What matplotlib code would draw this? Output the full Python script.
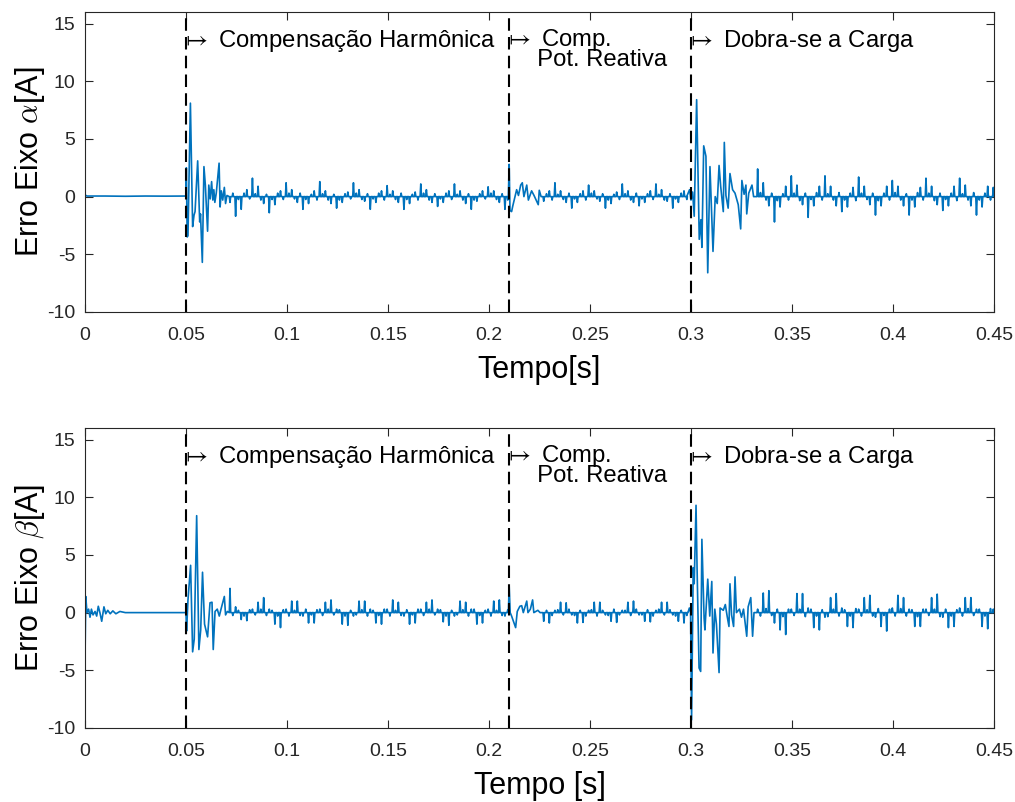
import numpy as np
import matplotlib
matplotlib.use("Agg")
from matplotlib import pyplot as plt

plt.rcParams['font.family'] = ['Liberation Sans', 'DejaVu Sans']
plt.rcParams['mathtext.fontset'] = 'cm'
plt.rcParams['axes.unicode_minus'] = False

# all times in ms, values in A
STEP = 1000 / 360   # spacing of the commutation spikes (6 per 60 Hz cycle)

# ---------------- eixo alpha ----------------
alpha_pre_t = [0.0, 1.0, 10.0, 20.0, 30.0, 40.0, 49.9]
alpha_pre_v = [0.15, 0.05, 0.05, 0.03, 0.05, 0.04, 0.05]

alpha_tr1_t = [50.0, 50.2, 50.6, 51.0, 52.2, 53.3, 54.0, 54.5, 55.8, 56.8, 57.2, 58.1, 58.9,
               59.6, 60.7, 61.3, 62.0, 62.7, 63.3, 63.8, 64.3, 65.0, 66.4, 66.9, 67.5, 68.2,
               69.0, 69.6, 70.3]
alpha_tr1_v = [0.05, 2.5, -3.5, -3.4, 8.1, -2.6, -1.6, -1.3, 3.1, -2.2, -1.5, -5.7, 2.6,
               1.0, -3.0, 1.0, -0.2, 1.3, -0.3, 0.6, -0.5, 0.3, 2.9, -0.9, 0.5, -0.3,
               0.8, -0.6, 0.1]
alpha_seg1_start = 71.8
alpha_seg1 = [-0.5, -1.7, -1.1, 0.6,
              1.6, 0.9, -0.6, -1.4, -0.7, 0.5,
              1.2, 0.6, -0.5, -1.1, -0.6, 0.5,
              1.3, 0.5, -0.6, -1.0, -0.5, 0.4,
              1.2, 0.6, -0.4, -1.1, -0.5, 0.5,
              0.95, 0.5, -0.5, -1.1, -0.6, 0.4,
              1.1, 0.6, -0.5, -0.85, -0.5, 0.5,
              1.1, 0.5, -0.6, -1.1, -0.4, 0.5,
              0.85, 0.5, -0.5, -1.1]
alpha_seg1_rip = [0.3, -0.25, 0.3, -0.2,
                  0.25, -0.3, 0.2, -0.25, 0.3, -0.25,
                  0.3, -0.2, 0.3, -0.25, 0.2, -0.3,
                  0.25, -0.3, 0.2, -0.3, 0.25, -0.2,
                  0.3, -0.25, 0.25, -0.2, 0.3, -0.3,
                  0.2, -0.25, 0.3, -0.25, 0.2, -0.3,
                  0.3, -0.3, 0.25, -0.2, 0.3, -0.25,
                  0.2, -0.3, 0.25, -0.3, 0.25, -0.2,
                  0.3, -0.25, 0.25, -0.3]

alpha_tr2_t = [209.6, 210.0, 210.4, 211.2, 211.8, 213.7, 214.6, 215.7, 216.5, 217.3, 218.7,
               219.5, 221.1, 222.3, 224.4, 224.9, 225.8]
alpha_tr2_v = [0.1, 2.8, -1.2, -1.3, -0.8, 0.6, 0.1, 1.0, 1.2, 0.0, 1.0,
               -0.3, 0.5, 0.1, -0.7, 0.55, 0.0]
alpha_seg2_start = 227.1
alpha_seg2 = [-0.4, 0.5,
              1.2, 0.5, -0.5, -1.0, -0.5, 0.5,
              1.0, 0.5, -0.4, -1.0, -0.6, 0.4,
              1.1, 0.5, -0.5, -0.8, -0.5, 0.5,
              1.1, 0.6, -0.4, -1.0, -0.5, 0.5]
alpha_seg2_rip = [0.25, -0.3,
                  0.2, -0.25, 0.3, -0.2, 0.25, -0.3,
                  0.3, -0.2, 0.25, -0.3, 0.2, -0.25,
                  0.25, -0.3, 0.3, -0.2, 0.25, -0.25,
                  0.2, -0.3, 0.25, -0.2, 0.3, -0.25]

alpha_tr3_t = [298.0, 299.3, 300.0, 300.8, 301.6, 302.8, 304.1, 304.9, 305.4, 306.3, 307.4,
               308.3, 309.4, 310.9, 312.0, 313.0, 313.9, 314.7, 316.0, 316.5, 317.3, 318.4,
               319.3, 320.6, 321.8, 323.4, 324.6, 325.2, 326.3, 327.2, 327.6, 328.6, 330.2,
               331.0]
alpha_tr3_v = [0.05, 0.6, -0.3, 0.4, -1.7, 8.4, -3.7, -2.0, -4.4, 4.4, 3.5,
               -6.6, 2.6, -4.75, 0.0, -0.6, 2.7, 0.9, -1.3, 4.7, 0.1, -1.0,
               2.0, 0.6, 0.3, -0.7, -2.8, 1.4, 0.2, 1.0, -1.5, 0.3, 1.0,
               0.0]
alpha_seg3_start = 333.0
alpha_seg3 = [2.4, 1.2, -0.8, -2.2, -0.9, 0.9,
              1.8, 1.0, -0.7, -1.8, -0.8, 0.9,
              1.8, 0.9, -0.8, -1.3, -0.9, 0.8,
              1.7, 0.9, -0.7, -1.6, -0.8, 0.9,
              1.4, 0.9, -0.8, -1.6, -0.9, 0.8,
              1.6, 0.9, -0.7, -1.2, -0.8, 0.9,
              1.6, 1.0, -0.8, -1.6, -0.9, 0.9,
              0.8]
alpha_seg3_rip = [0.35, -0.3, 0.3, -0.35, 0.25, -0.3,
                  0.3, -0.35, 0.3, -0.25, 0.35, -0.3,
                  0.25, -0.3, 0.35, -0.3, 0.3, -0.35,
                  0.3, -0.25, 0.3, -0.35, 0.3, -0.3,
                  0.35, -0.3, 0.25, -0.3, 0.35, -0.3,
                  0.3, -0.35, 0.3, -0.25, 0.3, -0.35,
                  0.25, -0.3, 0.35, -0.3, 0.3, -0.3,
                  0.3]

# ---------------- eixo beta ----------------
beta_pre_t = [0.0, 0.4, 1.0, 1.8, 2.5, 3.2, 4.0, 5.0, 5.8, 6.6, 7.4, 8.3, 9.4, 10.3, 11.3,
              12.5, 13.8, 15.3, 17.3, 20.0, 49.9]
beta_pre_v = [-4.4, 1.4, 0.0, 0.3, -0.4, 0.3, -0.2, 0.1, -0.3, 0.55, 0.0, -0.75, 0.5, -0.1, 0.2,
              -0.1, 0.15, -0.1, 0.1, 0.0, 0.0]

beta_tr1_t = [50.0, 50.3, 51.0, 52.3, 53.3, 54.1, 55.3, 56.4, 57.3, 58.2, 59.2, 60.7, 61.9,
              62.9, 63.5, 64.4, 65.5, 66.5, 67.5, 69.0, 69.6, 70.5]
beta_tr1_v = [0.0, -1.6, 1.1, 4.1, -3.4, -2.3, 8.4, -3.2, -1.5, 3.5, -1.0, -2.1, 0.85,
              0.9, -3.2, 0.1, 0.3, -0.3, 0.4, 1.4, -0.2, 0.1]
beta_seg1_start = 71.8
beta_seg1 = [2.1, 0.5, -0.6, -0.7,
             0.3, 0.9, 1.3, 0.3, -1.0, -1.3,
             0.3, 1.0, 1.0, -0.3, -0.9, -0.9,
             0.3, 0.9, 1.1, 0.3, -1.0, -1.1,
             -0.3, 1.0, 1.0, 0.3, -0.9, -1.0,
             0.3, 1.1, 0.9, -0.3, -1.0, -0.9,
             0.3, 0.9, 1.1, 0.3, -0.8, -1.1,
             -0.3, 1.0, 0.9, 0.3, -1.0, -0.9,
             0.3, 1.0, 1.1, -0.3]
beta_seg1_rip = [-0.25, 0.2, -0.3, 0.25,
                 -0.2, 0.3, -0.25, 0.2, -0.3, 0.25,
                 -0.3, 0.2, -0.25, 0.3, -0.2, 0.25,
                 -0.25, 0.3, -0.2, 0.25, -0.3, 0.2,
                 -0.2, 0.25, -0.3, 0.2, -0.25, 0.3,
                 -0.3, 0.2, -0.25, 0.25, -0.2, 0.3,
                 -0.25, 0.3, -0.2, 0.25, -0.3, 0.2,
                 -0.2, 0.25, -0.3, 0.3, -0.25, 0.2,
                 -0.3, 0.2, -0.25, 0.25]

beta_tr2_t = [209.6, 210.0, 210.5, 211.2, 213.2, 214.0, 215.3, 216.2, 217.0, 218.7, 219.3,
              220.5, 221.6, 222.2, 224.2, 225.3]
beta_tr2_v = [0.0, 2.3, 0.0, -0.3, -1.3, 0.1, 0.55, 0.6, 0.0, 1.0, 0.0,
              0.3, 1.1, 0.0, 0.2, 0.0]
beta_seg2_start = 227.1
beta_seg2 = [-0.75, -0.9,
             0.2, 0.9, 0.85, -0.2, -0.9, -0.85,
             0.2, 0.9, 0.9, -0.2, -0.75, -0.85,
             0.2, 0.9, 1.0, -0.2, -0.75, -0.8,
             0.2, 0.9, 0.9, -0.2, -0.75, -0.9]
beta_seg2_rip = [0.2, -0.25,
                 0.25, -0.2, 0.3, -0.25, 0.2, -0.3,
                 0.25, -0.3, 0.2, -0.25, 0.3, -0.2,
                 0.2, -0.25, 0.3, -0.2, 0.25, -0.3,
                 0.3, -0.2, 0.25, -0.3, 0.2, -0.25]

beta_tr3_t = [298.5, 299.2, 299.8, 300.3, 301.1, 301.6, 302.5, 303.0, 304.0, 304.8, 305.4,
              306.5, 306.9, 308.3, 309.3, 310.3, 310.9, 311.8, 312.6, 313.9, 314.4, 316.0,
              317.0, 317.9, 318.8, 319.3, 320.1, 321.1, 321.8, 322.5, 324.0, 325.0, 326.0,
              327.6, 328.3, 329.6, 330.5, 331.2]
beta_tr3_v = [0.0, 0.4, 0.0, -9.3, 3.9, 2.5, 9.3, 4.0, -4.8, -5.1, 6.35,
              -0.5, -1.5, 2.9, -0.3, 2.7, -3.5, 0.3, -1.0, -5.2, 0.4, 0.2,
              0.7, -0.3, -1.2, 2.5, -0.2, -1.2, 3.1, 0.0, 0.3, -0.4, 0.3,
              -2.05, 0.5, 1.3, -2.05, 0.0]
beta_seg3_start = 333.0
beta_seg3 = [0.3, 1.7, 1.9, -0.9, -1.5, -1.9,
             0.3, 1.65, 1.65, 0.4, -1.3, -1.5,
             -0.4, 1.3, 1.65, 0.4, -1.2, -1.3,
             0.3, 1.3, 1.5, -0.4, -1.2, -1.6,
             0.4, 1.5, 1.3, 0.3, -1.2, -1.2,
             0.3, 1.3, 1.6, -0.4, -1.3, -1.2,
             0.4, 1.3, 1.3, 0.3, -1.2, -1.4,
             0.3]
beta_seg3_rip = [-0.3, 0.35, -0.25, 0.3, -0.35, 0.3,
                 -0.25, 0.3, -0.35, 0.3, -0.3, 0.25,
                 -0.35, 0.3, -0.3, 0.25, -0.3, 0.35,
                 -0.3, 0.25, -0.3, 0.35, -0.25, 0.3,
                 -0.3, 0.35, -0.3, 0.25, -0.35, 0.3,
                 -0.25, 0.3, -0.35, 0.3, -0.3, 0.25,
                 -0.3, 0.35, -0.25, 0.3, -0.3, 0.35,
                 -0.3]

events = [0.05, 0.21, 0.30]
xticks = [0, 0.05, 0.1, 0.15, 0.2, 0.25, 0.3, 0.35, 0.4, 0.45]
xticklabels = ['0', '0.05', '0.1', '0.15', '0.2', '0.25', '0.3', '0.35', '0.4', '0.45']
yticks = [-10, -5, 0, 5, 10, 15]


def spikes(start, amps, rip, half=0.35):
    # each commutation spike is a narrow triangle, with a small ripple halfway to the next one
    t, v = [], []
    for k, (a, r) in enumerate(zip(amps, rip)):
        tk = start + k * STEP
        tm = tk + STEP / 2
        t += [tk - half, tk, tk + half, tm - 0.3, tm, tm + 0.3]
        v += [0.0, a, 0.0, 0.0, r, 0.0]
    return t, v


def build(parts):
    t, v = [], []
    for pt, pv in parts:
        t += list(pt)
        v += list(pv)
    return np.array(t) / 1000.0, np.array(v)


t_a, v_a = build([(alpha_pre_t, alpha_pre_v), (alpha_tr1_t, alpha_tr1_v),
                  spikes(alpha_seg1_start, alpha_seg1, alpha_seg1_rip),
                  (alpha_tr2_t, alpha_tr2_v),
                  spikes(alpha_seg2_start, alpha_seg2, alpha_seg2_rip),
                  (alpha_tr3_t, alpha_tr3_v),
                  spikes(alpha_seg3_start, alpha_seg3, alpha_seg3_rip)])
t_b, v_b = build([(beta_pre_t, beta_pre_v), (beta_tr1_t, beta_tr1_v),
                  spikes(beta_seg1_start, beta_seg1, beta_seg1_rip),
                  (beta_tr2_t, beta_tr2_v),
                  spikes(beta_seg2_start, beta_seg2, beta_seg2_rip),
                  (beta_tr3_t, beta_tr3_v),
                  spikes(beta_seg3_start, beta_seg3, beta_seg3_rip)])

fig = plt.figure(figsize=(10.15, 8.02), dpi=100)
ax1 = fig.add_axes([0.0837, 0.611, 0.8956, 0.374])
ax2 = fig.add_axes([0.0837, 0.0923, 0.8956, 0.374])

grey = '#262626'
for ax, t, v, ylab, xlab in [(ax1, t_a, v_a, r'Erro Eixo $\alpha$[A]', 'Tempo[s]'),
                             (ax2, t_b, v_b, r'Erro Eixo $\beta$[A]', 'Tempo [s]')]:
    ax.plot(t, v, color='#0072BD', lw=1.2, zorder=2)
    for e in events:
        ax.axvline(e, color='k', lw=1.5, dashes=(6, 3), zorder=3)
    ax.set_xlim(0, 0.45)
    ax.set_ylim(-10, 16)
    ax.set_xticks(xticks)
    ax.set_xticklabels(xticklabels)
    ax.set_yticks(yticks)
    ax.tick_params(direction='in', length=6, width=0.8, colors=grey, labelsize=14,
                   top=True, right=True, pad=7)
    ax.tick_params(axis='x', pad=11)
    for s in ax.spines.values():
        s.set_color(grey)
        s.set_linewidth(0.8)
    ax.set_ylabel(ylab, fontsize=22, labelpad=0)
    ax.set_xlabel(xlab, fontsize=22, labelpad=8)

    ax.text(0.0473, 13.5, r'$\mapsto$ Compensação Harmônica', fontsize=17.2, va='center')
    ax.text(0.2073, 12.8, '$\\mapsto$ Comp.\n     Pot. Reativa', fontsize=17.2,
            va='center', linespacing=0.76)
    ax.text(0.2973, 13.5, r'$\mapsto$ Dobra-se a Carga', fontsize=17.2, va='center')

fig.savefig('out.png', dpi=100)
